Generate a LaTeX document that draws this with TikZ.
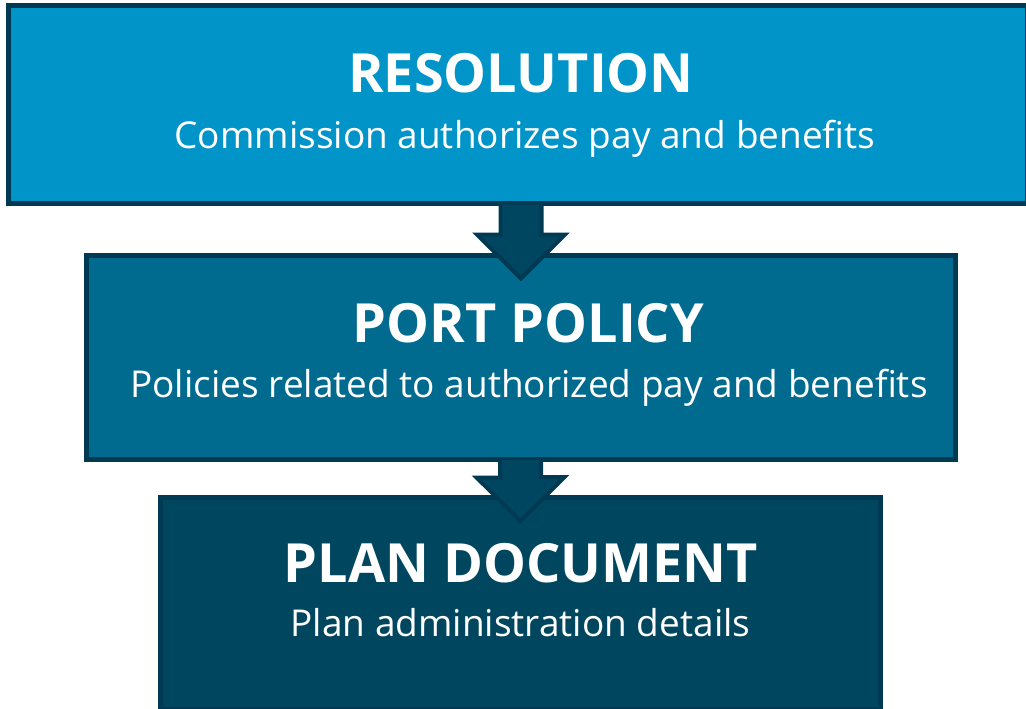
\documentclass[tikz,border=0pt]{standalone}
\usepackage{fontspec}
\setmainfont{Open Sans}
\usetikzlibrary{calc}
\definecolor{tierone}{HTML}{0094C9}
\definecolor{tiertwo}{HTML}{006A8F}
\definecolor{tierthree}{HTML}{00465F}
\definecolor{edgecol}{HTML}{003A52}
\definecolor{arrowfill}{HTML}{004661}
\tikzset{
  tier/.style={draw=edgecol, line width=5pt, inner sep=0pt, outer sep=0pt},
  blockarrow/.style={draw=edgecol, fill=arrowfill, line width=4pt, line join=miter},
  headtext/.style={text=white, font=\bfseries\fontsize{54}{54}\selectfont, anchor=base, inner sep=0pt},
  subtext/.style={text=white, font=\fontsize{37}{37}\selectfont, anchor=base, inner sep=0pt},
}
\begin{document}
\begin{tikzpicture}[x=1pt, y=-1pt]
  \useasboundingbox (0,0) rectangle (1026,709);
  \clip (0,0) rectangle (1026,709);
  % three stacked tiers
  \node[tier, fill=tierone, minimum width=1019pt, minimum height=198pt] (res) at (518,104.5) {};
  \node[tier, fill=tiertwo, minimum width=869pt, minimum height=204pt] (pol) at (521,357.5) {};
  \node[tier, fill=tierthree, minimum width=720pt, minimum height=212pt] (doc) at (520.5,603.5) {};
  % block arrows between the tiers
  \draw[blockarrow] ($(res.south -| pol.north)+(-20.5,1)$) -- ++(0,30) -- ++(-23.5,0)
      -- ($(pol.north)+(0,23)$) -- ++(44,-44) -- ++(-23.5,0) -- ++(0,-30);
  \draw[blockarrow] ($(pol.south -| doc.north)+(-20.5,1)$) -- ++(0,17) -- ++(-23.5,0)
      -- ($(doc.north)+(0,23.5)$) -- ++(44,-44) -- ++(-23.5,0) -- ++(0,-17);
  % labels
  \node[headtext] (t1) at (521,92.5) {RESOLUTION};
  \node[subtext] (s1) at (525,148) {Commission authorizes pay and benefits};
  \node[headtext] (t2) at (528.5,342) {PORT POLICY};
  \node[subtext] (s2) at (529,397.5) {Policies related to authorized pay and benefits};
  \node[headtext] (t3) at (521,582) {PLAN DOCUMENT};
  \node[subtext] (s3) at (520.5,636) {Plan administration details};
\end{tikzpicture}
\end{document}
